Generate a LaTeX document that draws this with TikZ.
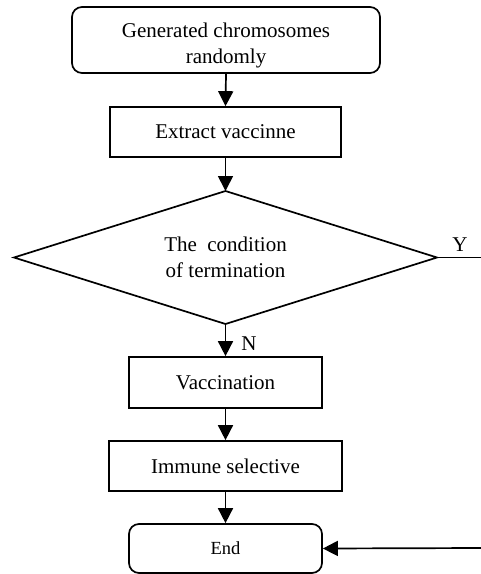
\documentclass[tikz,border=0pt]{standalone}
\usepackage{fontspec}
\setmainfont{Liberation Serif}
\usetikzlibrary{arrows.meta}
\begin{document}
\begin{tikzpicture}[x=1pt,y=-1pt,
  line/.style={line width=1.7pt},
  arr/.style={line width=1.7pt,-{Triangle[width=15pt,length=15pt]}},
  box/.style={draw,line width=1.7pt,inner sep=0pt,align=center,font=\fontsize{21}{26}\selectfont},
  rbox/.style={box,rounded corners=10pt},
  lbl/.style={inner sep=0pt,font=\fontsize{21}{26}\selectfont}]
\useasboundingbox (0,0) rectangle (481,574);
\node[rbox,minimum width=308pt,minimum height=66pt] (gen) at (226,40) {};
\node[lbl,align=center] (gentext) at (226,45) {Generated chromosomes\\randomly};
\node[box,minimum width=231pt,minimum height=50pt] (ext) at (225.5,132) {Extract vaccinne};
\coordinate (dT) at (225.5,191);
\coordinate (dB) at (225.5,324);
\coordinate (dL) at (14,257.5);
\coordinate (dR) at (437,257.5);
\draw[line,line join=miter] (dT) -- (dR) -- (dB) -- (dL) -- cycle;
\node[lbl,align=center] (cond) at (225.5,257) {The\ \ condition\\of termination};
\node[box,minimum width=193pt,minimum height=51pt] (vac) at (225.5,382.5) {Vaccination};
\node[box,minimum width=233pt,minimum height=50pt] (imm) at (225.5,466) {Immune selective};
\node[rbox,minimum width=193pt,minimum height=49pt,font=\fontsize{18.5}{22}\selectfont] (end) at (225.5,548.5) {End};
\coordinate (yend) at (481,257.5);
\coordinate (rin) at (481,548);
\draw[arr] (gen.south) -- (ext.north);
\draw[arr] (ext.south) -- (dT);
\draw[arr] (dB) -- (vac.north);
\draw[arr] (vac.south) -- (imm.north);
\draw[arr] (imm.south) -- (end.north);
\draw[line] (dR) -- (yend);
\draw[arr] (rin) -- (end.east);
\node[lbl] (ylab) at (460,245) {Y};
\node[lbl] (nlab) at (249,344) {N};
\end{tikzpicture}
\end{document}
